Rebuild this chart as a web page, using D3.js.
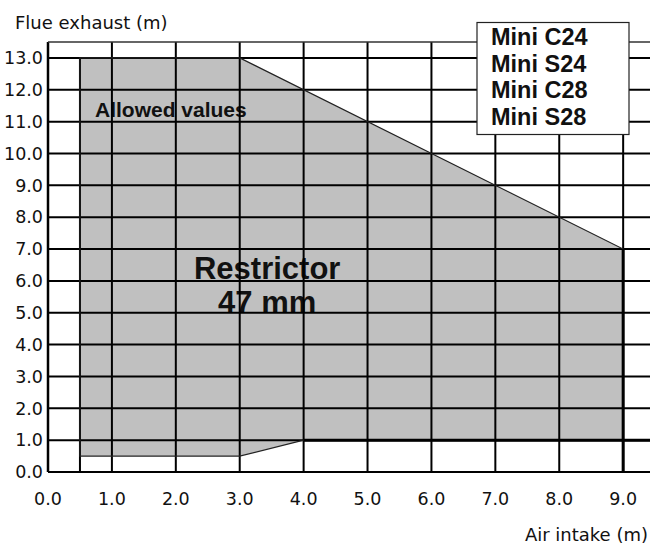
<!DOCTYPE html>
<html>
<head>
<meta charset="utf-8">
<script src="https://cdn.jsdelivr.net/npm/d3@7"></script>
<style>
body { margin: 0; background: #fff; }
svg { display: block; }
.tick-label { font-family: "DejaVu Sans", sans-serif; font-size: 17.5px; fill: #111; }
.axis-title { font-family: "DejaVu Sans", sans-serif; font-size: 18px; fill: #111; }
.bold { font-family: "Liberation Sans", Arial, sans-serif; font-weight: bold; fill: #111; }
</style>
</head>
<body>
<div id="chart"></div>
<script>

// chart data
var xTicks = [0, 1, 2, 3, 4, 5, 6, 7, 8, 9];
var yTicks = [0, 1, 2, 3, 4, 5, 6, 7, 8, 9, 10, 11, 12, 13];
var airIntake = [0.5, 0.5, 3, 9, 9, 4, 3];      // boundary of allowed area, x
var flueExhaust = [0.5, 13, 13, 7, 1, 1, 0.5];  // boundary of allowed area, y
var models = ["Mini C24", "Mini S24", "Mini C28", "Mini S28"];

var width = 650,
height = 545;

var x = d3.scaleLinear()
.domain([0, 9.42])
.range([48, 650]);

var y = d3.scaleLinear()
.domain([0, 13.5])
.range([472, 42]);

var svg = d3.select("#chart").append("svg")
.attr("width", width)
.attr("height", height);

var area = airIntake.map(function(d, i) { return [d, flueExhaust[i]]; });

var line = d3.line()
.x(function(d) { return x(d[0]); })
.y(function(d) { return y(d[1]); });

// grey allowed area
svg.append("path")
.datum(area)
.attr("d", line.curve(d3.curveLinearClosed))
.attr("fill", "#c0c0c0")
.attr("stroke", "none");

// texts inside the area (grid is drawn over them)
svg.append("text")
.attr("class", "bold")
.attr("x", x(0.735))
.attr("y", y(11.15))
.style("font-size", "21px")
.text("Allowed values");

svg.append("text")
.attr("class", "bold")
.attr("x", x(3.43))
.attr("y", y(6.06))
.attr("text-anchor", "middle")
.style("font-size", "31px")
.text("Restrictor");

svg.append("text")
.attr("class", "bold")
.attr("x", x(3.43))
.attr("y", y(5.0))
.attr("text-anchor", "middle")
.style("font-size", "31px")
.text("47 mm");

// grid
var grid = svg.append("g");

grid.selectAll("line.v")
.data(xTicks)
.enter().append("line")
.attr("class", "v")
.attr("x1", function(d) { return x(d); })
.attr("x2", function(d) { return x(d); })
.attr("y1", y(0))
.attr("y2", y(13.5))
.attr("stroke", "#000")
.attr("stroke-width", function(d) { return d === 0 ? 2.5 : 2; });

grid.selectAll("line.h")
.data(yTicks)
.enter().append("line")
.attr("class", "h")
.attr("x1", x(0))
.attr("x2", width)
.attr("y1", function(d) { return y(d); })
.attr("y2", function(d) { return y(d); })
.attr("stroke", "#000")
.attr("stroke-width", 2);

// top frame
grid.append("line")
.attr("x1", x(0)).attr("x2", width)
.attr("y1", y(13.5)).attr("y2", y(13.5))
.attr("stroke", "#333")
.attr("stroke-width", 1.5);

// left edge of the area goes down to the axis
grid.append("line")
.attr("x1", x(0.5)).attr("x2", x(0.5))
.attr("y1", y(0)).attr("y2", y(13))
.attr("stroke", "#000")
.attr("stroke-width", 2);

// area outline
svg.append("path")
.datum(area)
.attr("d", line)
.attr("fill", "none")
.attr("stroke", "#222")
.attr("stroke-width", 1.2);

svg.append("line")
.attr("x1", x(4)).attr("x2", width)
.attr("y1", y(1)).attr("y2", y(1))
.attr("stroke", "#000")
.attr("stroke-width", 3);

svg.append("line")
.attr("x1", x(9)).attr("x2", x(9))
.attr("y1", y(0)).attr("y2", y(7))
.attr("stroke", "#000")
.attr("stroke-width", 3);

// tick labels
svg.selectAll("text.xl")
.data(xTicks)
.enter().append("text")
.attr("class", "tick-label xl")
.attr("x", function(d) { return x(d); })
.attr("y", 505)
.attr("text-anchor", "middle")
.text(d3.format(".1f"));

svg.selectAll("text.yl")
.data(yTicks)
.enter().append("text")
.attr("class", "tick-label yl")
.attr("x", 43)
.attr("y", function(d) { return y(d); })
.attr("dy", "0.36em")
.attr("text-anchor", "end")
.text(d3.format(".1f"));

// axis titles
svg.append("text")
.attr("class", "axis-title")
.attr("x", 15)
.attr("y", 29)
.text("Flue exhaust (m)");

svg.append("text")
.attr("class", "axis-title")
.attr("x", 648)
.attr("y", 541)
.attr("text-anchor", "end")
.text("Air intake (m)");

// model box
var legend = svg.append("g");

legend.append("rect")
.attr("x", 477)
.attr("y", 22.5)
.attr("width", 152)
.attr("height", 112)
.attr("fill", "#fff")
.attr("stroke", "#222")
.attr("stroke-width", 1.2);

legend.selectAll("text")
.data(models)
.enter().append("text")
.attr("class", "bold")
.attr("x", 491)
.attr("y", function(d, i) { return 45 + i * 26.7; })
.style("font-size", "23.5px")
.text(function(d) { return d; });

</script>
</body>
</html>
